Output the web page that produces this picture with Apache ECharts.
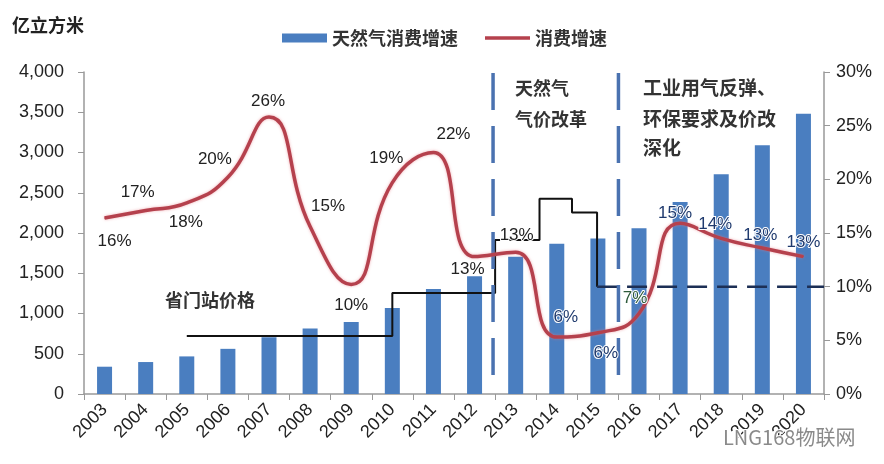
<!DOCTYPE html>
<html><head><meta charset="utf-8">
<script src="https://cdn.jsdelivr.net/npm/echarts@6/dist/echarts.min.js"></script>
<style>html,body{margin:0;padding:0;background:#fff}#c{width:884px;height:464px}</style>
</head><body><div id="c"></div>
<script>
// ---- data ----
const years = ['2003','2004','2005','2006','2007','2008','2009','2010','2011','2012','2013','2014','2015','2016','2017','2018','2019','2020'];
const consumption = [339,397,467,561,705,813,895,1069,1305,1463,1705,1868,1932,2058,2385,2730,3090,3480];
const growth = [16.4,17.1,17.8,20.2,25.8,15.6,10.2,19.7,22.5,12.8,13.2,5.3,5.7,7.5,15.9,14.5,13.6,12.8];
const growthLabels = ['16%','17%','18%','20%','26%','15%','10%','19%','22%','13%','13%','6%','6%','7%','15%','14%','13%','13%'];
const leftTicks = ['0','500','1,000','1,500','2,000','2,500','3,000','3,500','4,000'];
const rightTicks = ['0%','5%','10%','15%','20%','25%','30%'];
// city-gate price step line (x in category units, y on right axis %)
const gatePriceX = [2.5,7.5,7.5,10,10,11.08,11.08,11.87,11.87,12.48,12.48];
const gatePriceY = [5.4,5.4,9.4,9.4,14.35,14.35,18.2,18.2,16.9,16.9,10];
const gateFutureX = [12.48,18];
const gateFutureY = [10,10];
const reformX = [9.95,13.0];
const reformYRange = [1,29.9];

// ---- styles ----
const labelOffsets = [[10,23],[-8,-18],[-1,19],[-13,-18],[-1,-16],[18,-20],[0,21],[-6,-24],[20,-18],[-7,13],[1,-17],[9,-20],[8,20],[-4,-15],[-5,-10],[-6,-14],[-2,-13],[0,-14]];
const labelColors = years.map((y,i)=> i===13 ? '#2d5a3a' : (i>=11 ? '#1f3a6e' : '#222'));
const cjk = '"Noto Sans CJK SC", sans-serif';
const latin = '"Liberation Sans", Arial, sans-serif';
const red = '#b5414d';

const chart = echarts.init(document.getElementById('c'), null, {renderer:'canvas'});

const pairs = (xs, ys) => xs.map((x,i)=>[x, ys[i]]);

const series = [
  {
    name:'天然气消费增速', type:'bar', xAxisIndex:0, yAxisIndex:0,
    data: consumption, barWidth:15,
    itemStyle:{color:'#4a7ec0'}, z:2
  },
  {
    name:'gate', type:'line', xAxisIndex:1, yAxisIndex:1,
    data: pairs(gatePriceX, gatePriceY), symbol:'none',
    lineStyle:{color:'#111', width:2}, z:3, silent:true
  },
  {
    name:'gateFuture', type:'line', xAxisIndex:1, yAxisIndex:1,
    data: pairs(gateFutureX, gateFutureY), symbol:'none',
    lineStyle:{color:'#1c2f55', width:2.5, type:[20,10]}, z:3, silent:true
  },
  ...reformX.map((x,k)=>({
    name:'reform'+k, type:'line', xAxisIndex:1, yAxisIndex:1,
    data: [[x, reformYRange[1]],[x, reformYRange[0]]], symbol:'none',
    lineStyle:{color:'#4a72b0', width:3.5, type:[37,16]}, z:3, silent:true
  })),
  {
    name:'消费增速', type:'line', xAxisIndex:0, yAxisIndex:1,
    smooth:0.5, symbol:'circle', symbolSize:1, showSymbol:true,
    lineStyle:{color:red, width:3.5, shadowColor:'rgba(230,120,130,0.6)', shadowBlur:3},
    itemStyle:{color:red},
    data: growth.map((v,i)=>({
      value:v,
      label:{show:true, position:'inside', offset:labelOffsets[i], formatter:growthLabels[i],
        color:labelColors[i], fontSize:17, fontFamily:latin,
        textBorderColor:'#fff', textBorderWidth:2}
    })),
    z:5
  }
];

chart.setOption({
  animation:false,
  backgroundColor:'#fff',
  grid:{left:84, right:60, top:72, bottom:70, containLabel:false},
  legend:{
    left:277, top:24, itemWidth:45, itemHeight:9, itemGap:27,
    textStyle:{fontSize:18, fontFamily:cjk, color:'#333', fontWeight:'bold'},
    data:[{name:'天然气消费增速', icon:'rect'},{name:'消费增速', icon:'path://M0,0H48V3.5H0Z', itemStyle:{color:red}}]
  },
  xAxis:[
    {type:'category', data:years, boundaryGap:true,
     axisLine:{lineStyle:{color:'#999', width:1.5}},
     axisTick:{show:true, length:6, lineStyle:{color:'#999'}},
     axisLabel:{rotate:45, fontSize:18, color:'#222', fontFamily:latin, margin:13, interval:0}},
    {type:'value', min:0, max:18, show:false}
  ],
  yAxis:[
    {type:'value', min:0, max:4000, interval:500, position:'left',
     axisLine:{show:true, lineStyle:{color:'#999', width:1.5}},
     axisTick:{show:true, length:6, lineStyle:{color:'#999'}},
     splitLine:{show:false},
     axisLabel:{fontSize:18, color:'#222', fontFamily:latin, margin:20,
       formatter:(v)=>leftTicks[Math.round(v/500)]}},
    {type:'value', min:0, max:30, interval:5, position:'right',
     axisLine:{show:true, lineStyle:{color:'#999', width:1.5}},
     axisTick:{show:true, length:6, lineStyle:{color:'#999'}},
     splitLine:{show:false},
     axisLabel:{fontSize:18, color:'#222', fontFamily:latin, margin:12,
       formatter:(v)=>rightTicks[Math.round(v/5)]}}
  ],
  graphic:[
    {type:'text', left:12, top:16, style:{text:'亿立方米', font:'bold 18px '+cjk, fill:'#222'}},
    {type:'text', left:515, top:79, style:{text:'天然气', font:'bold 18px '+cjk, fill:'#333'}},
    {type:'text', left:515, top:110, style:{text:'气价改革', font:'bold 18px '+cjk, fill:'#333'}},
    {type:'text', left:643, top:78, style:{text:'工业用气反弹、', font:'bold 19px '+cjk, fill:'#333'}},
    {type:'text', left:643, top:109, style:{text:'环保要求及价改', font:'bold 19px '+cjk, fill:'#333'}},
    {type:'text', left:643, top:138, style:{text:'深化', font:'bold 19px '+cjk, fill:'#333'}},
    {type:'text', left:165, top:291, style:{text:'省门站价格', font:'bold 18px '+cjk, fill:'#333'}},
    {type:'text', left:722, top:426, z:100, style:{text:'LNG168物联网', font:'20px '+cjk, fill:'#8a8a8a', stroke:'#fff', lineWidth:2}}
  ],
  series: series
});
</script>
</body></html>
